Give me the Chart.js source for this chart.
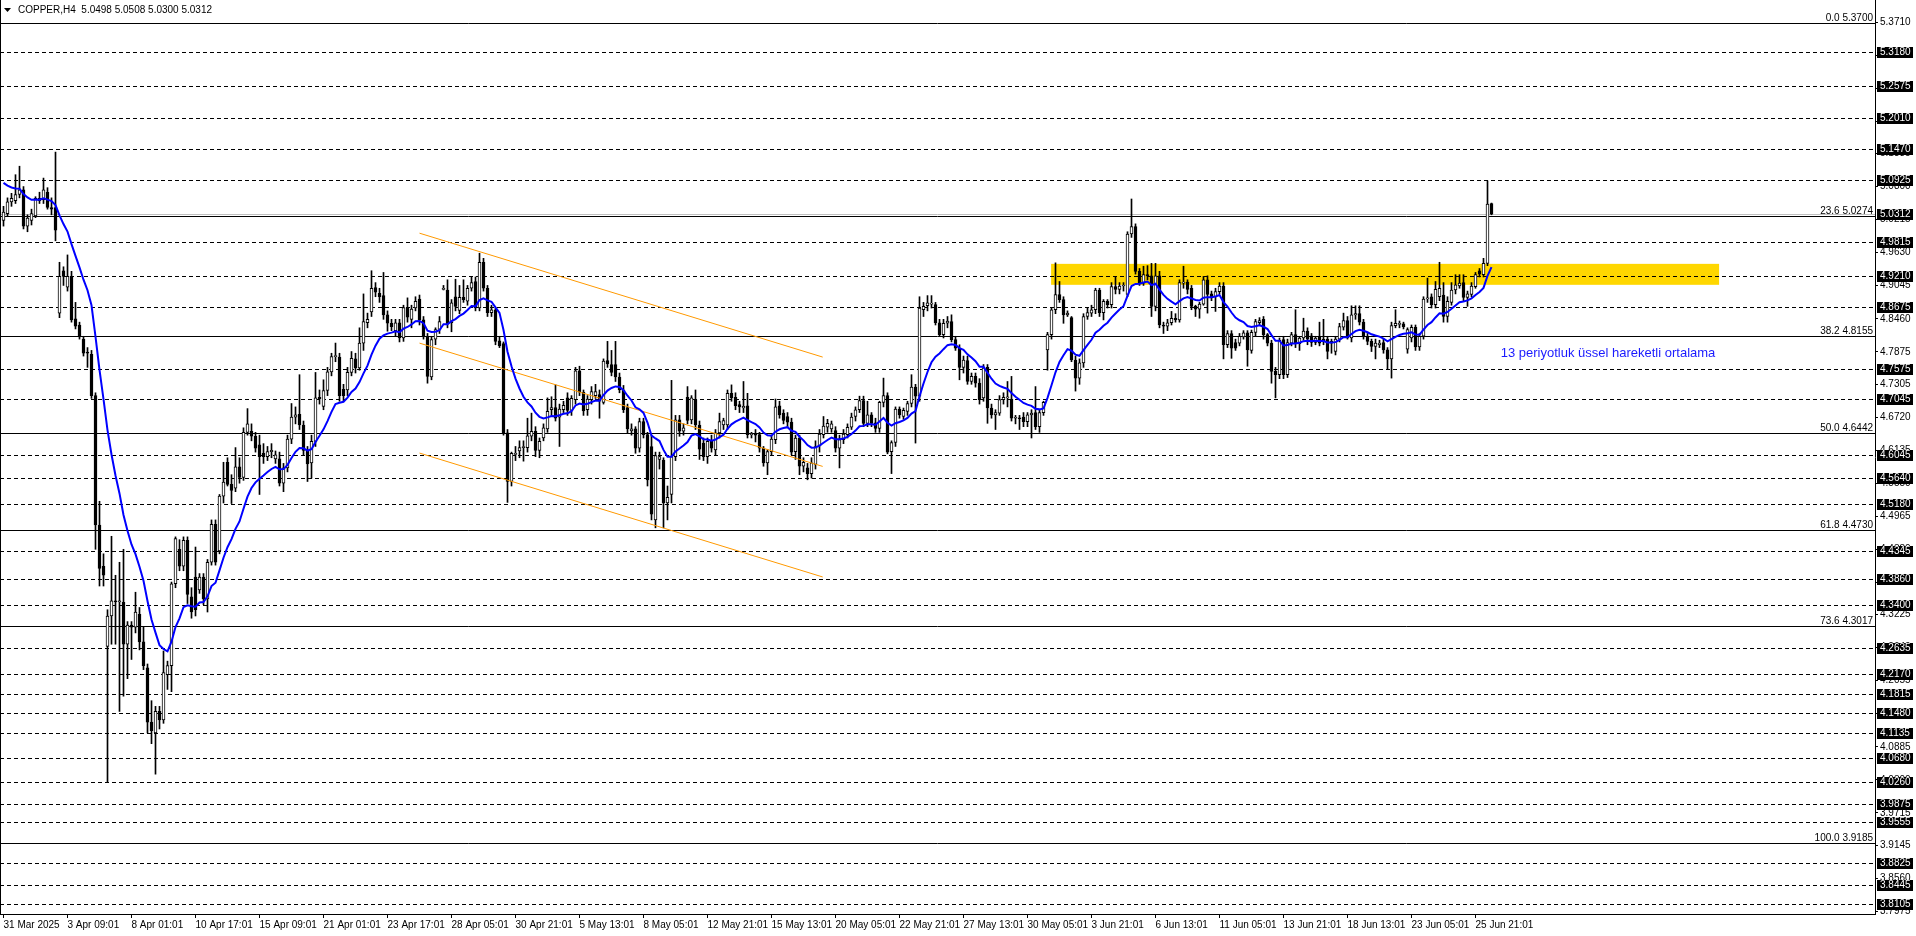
<!DOCTYPE html>
<html>
<head>
<meta charset="utf-8">
<style>
html, body { margin: 0; padding: 0; background: #fff; overflow: hidden; }
canvas { display: block; }
</style>
<script src="https://cdn.jsdelivr.net/npm/chart.js@4.4.1/dist/chart.umd.min.js"></script>
</head>
<body>
<canvas id="chart" width="1916" height="936"></canvas>
<script>
// COPPER H4, one value per bar (31 Mar 2025 -> 26 Jun 2025)
const opens = [
  5.020,5.032,5.053,5.055,5.066,5.074,5.010,5.020,5.028,5.059,
  5.057,5.070,5.043,5.043,4.856,4.931,4.902,4.921,4.846,4.835,
  4.810,4.787,4.783,4.710,4.481,4.408,4.266,4.320,4.347,4.345,
  4.344,4.270,4.304,4.300,4.323,4.274,4.228,4.132,4.113,4.151,
  4.136,4.216,4.232,4.377,4.438,4.408,4.454,4.354,4.389,4.366,
  4.389,4.350,4.415,4.482,4.435,4.532,4.592,4.553,4.546,4.584,
  4.565,4.645,4.647,4.638,4.623,4.608,4.602,4.611,4.598,4.598,
  4.555,4.582,4.633,4.672,4.677,4.658,4.613,4.591,4.629,4.707,
  4.691,4.719,4.752,4.779,4.778,4.721,4.720,4.751,4.775,4.759,
  4.803,4.839,4.858,4.901,4.891,4.887,4.853,4.838,4.825,4.839,
  4.812,4.866,4.845,4.865,4.881,4.844,4.815,4.743,4.810,4.827,
  4.898,4.897,4.839,4.885,4.861,4.884,4.877,4.900,4.912,4.865,
  4.946,4.900,4.857,4.862,4.807,4.802,4.644,4.558,4.606,4.612,
  4.618,4.618,4.638,4.647,4.613,4.635,4.651,4.685,4.689,4.672,
  4.685,4.706,4.684,4.703,4.754,4.716,4.685,4.703,4.710,4.712,
  4.698,4.772,4.765,4.765,4.743,4.720,4.689,4.648,4.651,4.617,
  4.664,4.641,4.620,4.490,4.597,4.596,4.520,4.535,4.602,4.667,
  4.647,4.707,4.667,4.703,4.658,4.626,4.602,4.629,4.614,4.644,
  4.658,4.658,4.714,4.707,4.694,4.688,4.692,4.641,4.641,4.641,
  4.617,4.591,4.611,4.632,4.692,4.679,4.673,4.663,4.611,4.635,
  4.585,4.582,4.572,4.588,4.621,4.641,4.654,4.651,4.648,4.617,
  4.632,4.641,4.654,4.673,4.685,4.701,4.661,4.676,4.662,4.652,
  4.698,4.710,4.611,4.627,4.686,4.673,4.682,4.696,4.725,4.709,
  4.862,4.869,4.872,4.871,4.839,4.818,4.838,4.841,4.809,4.794,
  4.760,4.772,4.735,4.744,4.732,4.706,4.760,4.688,4.676,4.679,
  4.703,4.706,4.704,4.670,4.670,4.672,4.664,4.676,4.680,4.655,
  4.680,4.791,4.818,4.862,4.889,4.880,4.853,4.848,4.773,4.741,
  4.768,4.850,4.856,4.862,4.897,4.857,4.877,4.871,4.903,4.898,
  4.904,4.889,4.996,5.009,4.930,4.909,4.924,4.922,4.868,4.922,
  4.835,4.833,4.839,4.847,4.844,4.909,4.911,4.900,4.868,4.863,
  4.872,4.915,4.890,4.885,4.894,4.904,4.800,4.820,4.804,4.803,
  4.814,4.821,4.790,4.822,4.839,4.845,4.818,4.803,4.753,4.747,
  4.809,4.747,4.803,4.818,4.802,4.812,4.824,4.816,4.804,4.813,
  4.810,4.810,4.806,4.788,4.810,4.831,4.843,4.812,4.853,4.855,
  4.840,4.815,4.806,4.797,4.800,4.804,4.791,4.775,4.834,4.836,
  4.837,4.792,4.812,4.831,4.796,4.815,4.881,4.885,4.871,4.885,
  4.888,4.850,4.875,4.897,4.904,4.910,4.884,4.889,4.903,4.931,
  4.924,4.944,5.0498
];
const highs = [
  5.045,5.060,5.068,5.101,5.116,5.080,5.030,5.040,5.062,5.070,
  5.095,5.078,5.060,5.141,4.946,4.938,4.959,4.930,4.875,4.840,
  4.815,4.795,4.790,4.715,4.523,4.430,4.331,4.461,4.392,4.415,
  4.438,4.310,4.310,4.362,4.335,4.300,4.235,4.170,4.160,4.160,
  4.258,4.240,4.380,4.460,4.455,4.460,4.460,4.370,4.442,4.395,
  4.395,4.420,4.490,4.490,4.535,4.592,4.600,4.570,4.618,4.600,
  4.653,4.687,4.660,4.645,4.640,4.625,4.620,4.625,4.612,4.610,
  4.590,4.640,4.696,4.690,4.747,4.665,4.620,4.640,4.751,4.720,
  4.738,4.760,4.785,4.803,4.785,4.730,4.760,4.788,4.785,4.830,
  4.890,4.856,4.931,4.910,4.900,4.928,4.860,4.845,4.845,4.845,
  4.870,4.883,4.870,4.885,4.888,4.850,4.820,4.815,4.830,4.850,
  4.905,4.915,4.880,4.916,4.905,4.915,4.905,4.920,4.920,4.962,
  4.953,4.905,4.870,4.865,4.815,4.805,4.650,4.610,4.620,4.630,
  4.630,4.670,4.679,4.655,4.635,4.660,4.706,4.708,4.729,4.695,
  4.700,4.715,4.710,4.760,4.762,4.720,4.710,4.726,4.730,4.720,
  4.775,4.806,4.790,4.806,4.750,4.728,4.695,4.660,4.655,4.670,
  4.670,4.645,4.640,4.610,4.610,4.600,4.550,4.737,4.675,4.675,
  4.660,4.726,4.710,4.720,4.665,4.635,4.635,4.640,4.650,4.679,
  4.670,4.720,4.729,4.715,4.700,4.735,4.714,4.645,4.650,4.645,
  4.620,4.615,4.640,4.704,4.700,4.685,4.680,4.670,4.640,4.640,
  4.600,4.590,4.600,4.630,4.650,4.673,4.668,4.665,4.655,4.640,
  4.650,4.660,4.679,4.690,4.709,4.709,4.700,4.680,4.670,4.700,
  4.741,4.715,4.630,4.690,4.690,4.688,4.700,4.747,4.730,4.885,
  4.875,4.887,4.887,4.875,4.845,4.845,4.850,4.853,4.815,4.800,
  4.780,4.780,4.750,4.750,4.740,4.765,4.765,4.695,4.685,4.710,
  4.715,4.735,4.744,4.675,4.675,4.680,4.680,4.685,4.726,4.685,
  4.700,4.822,4.865,4.945,4.912,4.885,4.860,4.850,4.780,4.775,
  4.855,4.865,4.870,4.900,4.900,4.880,4.880,4.910,4.920,4.910,
  4.910,5.000,5.058,5.014,4.935,4.939,4.940,4.944,4.944,4.930,
  4.840,4.845,4.859,4.855,4.915,4.939,4.915,4.905,4.870,4.875,
  4.921,4.922,4.895,4.900,4.910,4.910,4.825,4.825,4.810,4.820,
  4.825,4.825,4.826,4.845,4.848,4.850,4.820,4.808,4.760,4.812,
  4.815,4.810,4.822,4.862,4.815,4.847,4.830,4.820,4.815,4.840,
  4.845,4.815,4.810,4.815,4.838,4.856,4.850,4.869,4.869,4.869,
  4.845,4.820,4.810,4.810,4.808,4.810,4.795,4.840,4.862,4.842,
  4.840,4.830,4.835,4.835,4.820,4.885,4.918,4.890,4.912,4.946,
  4.910,4.885,4.910,4.924,4.924,4.924,4.895,4.910,4.928,4.935,
  4.953,5.090,5.0508
];
const lows = [
  5.010,5.028,5.045,5.050,5.060,5.005,5.000,5.012,5.025,5.050,
  5.050,5.040,5.030,4.984,4.848,4.905,4.895,4.840,4.828,4.810,
  4.780,4.760,4.705,4.438,4.373,4.373,4.025,4.270,4.270,4.151,
  4.178,4.209,4.243,4.290,4.260,4.225,4.113,4.094,4.040,4.120,
  4.130,4.190,4.186,4.370,4.400,4.400,4.342,4.316,4.320,4.360,
  4.340,4.327,4.410,4.410,4.430,4.520,4.550,4.519,4.540,4.555,
  4.560,4.640,4.630,4.610,4.535,4.590,4.595,4.600,4.590,4.550,
  4.540,4.575,4.625,4.660,4.650,4.605,4.558,4.564,4.620,4.695,
  4.685,4.710,4.745,4.770,4.700,4.700,4.710,4.745,4.750,4.755,
  4.790,4.830,4.850,4.885,4.875,4.845,4.824,4.825,4.815,4.805,
  4.806,4.840,4.830,4.860,4.835,4.810,4.732,4.738,4.800,4.820,
  4.897,4.830,4.823,4.860,4.855,4.875,4.870,4.895,4.860,4.860,
  4.895,4.850,4.850,4.800,4.795,4.640,4.521,4.550,4.595,4.600,
  4.594,4.610,4.630,4.602,4.600,4.630,4.645,4.675,4.665,4.620,
  4.680,4.675,4.675,4.695,4.710,4.675,4.675,4.695,4.705,4.670,
  4.695,4.760,4.745,4.735,4.715,4.680,4.644,4.640,4.608,4.610,
  4.635,4.550,4.490,4.476,4.580,4.476,4.490,4.520,4.595,4.638,
  4.640,4.660,4.660,4.650,4.597,4.595,4.590,4.610,4.605,4.635,
  4.650,4.650,4.700,4.685,4.680,4.680,4.635,4.635,4.628,4.610,
  4.585,4.570,4.605,4.625,4.670,4.660,4.655,4.605,4.597,4.570,
  4.575,4.561,4.564,4.580,4.610,4.635,4.645,4.645,4.610,4.582,
  4.625,4.635,4.650,4.665,4.680,4.655,4.655,4.655,4.645,4.645,
  4.690,4.607,4.572,4.620,4.670,4.668,4.675,4.690,4.626,4.700,
  4.850,4.860,4.865,4.835,4.815,4.812,4.830,4.805,4.790,4.738,
  4.750,4.730,4.730,4.725,4.695,4.700,4.661,4.670,4.650,4.675,
  4.695,4.690,4.665,4.660,4.650,4.655,4.655,4.635,4.650,4.645,
  4.675,4.755,4.810,4.855,4.875,4.838,4.850,4.770,4.718,4.730,
  4.760,4.845,4.850,4.855,4.850,4.844,4.865,4.865,4.890,4.890,
  4.895,4.885,4.990,4.925,4.905,4.905,4.915,4.850,4.860,4.830,
  4.820,4.825,4.835,4.840,4.840,4.900,4.890,4.862,4.850,4.847,
  4.870,4.856,4.878,4.859,4.890,4.775,4.795,4.776,4.790,4.798,
  4.810,4.762,4.785,4.815,4.835,4.810,4.798,4.732,4.706,4.740,
  4.740,4.742,4.798,4.795,4.790,4.808,4.800,4.797,4.800,4.798,
  4.800,4.775,4.785,4.782,4.805,4.826,4.810,4.805,4.845,4.835,
  4.810,4.800,4.788,4.775,4.795,4.785,4.757,4.741,4.830,4.830,
  4.828,4.785,4.805,4.790,4.790,4.810,4.875,4.865,4.865,4.878,
  4.840,4.840,4.870,4.890,4.900,4.878,4.868,4.885,4.900,4.920,
  4.920,4.940,5.0300
];
const closes = [
  5.035,5.053,5.059,5.066,5.074,5.010,5.024,5.032,5.059,5.055,
  5.074,5.043,5.040,5.003,4.921,4.921,4.921,4.844,4.833,4.814,
  4.785,4.785,4.710,4.481,4.404,4.392,4.320,4.347,4.345,4.347,
  4.270,4.304,4.300,4.327,4.274,4.232,4.132,4.117,4.151,4.136,
  4.220,4.232,4.377,4.457,4.408,4.454,4.358,4.327,4.331,4.389,
  4.350,4.415,4.482,4.415,4.532,4.557,4.553,4.542,4.584,4.565,
  4.645,4.660,4.638,4.617,4.602,4.602,4.611,4.613,4.605,4.555,
  4.582,4.633,4.672,4.676,4.658,4.613,4.589,4.629,4.706,4.704,
  4.719,4.752,4.779,4.779,4.710,4.710,4.751,4.776,4.759,4.803,
  4.841,4.845,4.900,4.893,4.885,4.853,4.838,4.832,4.839,4.812,
  4.866,4.849,4.863,4.877,4.844,4.815,4.744,4.809,4.827,4.841,
  4.900,4.837,4.874,4.868,4.884,4.880,4.900,4.910,4.865,4.946,
  4.900,4.857,4.862,4.806,4.798,4.644,4.558,4.608,4.608,4.618,
  4.620,4.639,4.647,4.613,4.629,4.653,4.682,4.689,4.670,4.686,
  4.693,4.684,4.705,4.754,4.716,4.683,4.704,4.717,4.717,4.700,
  4.771,4.766,4.751,4.743,4.720,4.685,4.651,4.651,4.617,4.664,
  4.641,4.561,4.500,4.604,4.602,4.520,4.530,4.602,4.667,4.647,
  4.653,4.666,4.706,4.658,4.615,4.602,4.629,4.617,4.644,4.664,
  4.666,4.714,4.706,4.692,4.690,4.691,4.641,4.641,4.640,4.617,
  4.591,4.611,4.633,4.690,4.676,4.666,4.663,4.610,4.635,4.585,
  4.592,4.572,4.591,4.620,4.642,4.656,4.661,4.660,4.617,4.632,
  4.642,4.654,4.672,4.685,4.701,4.661,4.676,4.661,4.652,4.698,
  4.710,4.610,4.627,4.686,4.676,4.684,4.696,4.725,4.709,4.865,
  4.868,4.874,4.872,4.839,4.818,4.838,4.842,4.809,4.794,4.760,
  4.773,4.735,4.744,4.732,4.703,4.759,4.688,4.676,4.680,4.703,
  4.707,4.707,4.670,4.670,4.669,4.664,4.676,4.679,4.655,4.680,
  4.698,4.818,4.862,4.889,4.880,4.853,4.856,4.773,4.741,4.768,
  4.850,4.857,4.862,4.897,4.857,4.877,4.871,4.903,4.898,4.904,
  4.904,4.996,5.009,4.930,4.909,4.924,4.922,4.868,4.922,4.835,
  4.833,4.839,4.847,4.844,4.910,4.911,4.898,4.868,4.863,4.872,
  4.915,4.889,4.883,4.894,4.904,4.800,4.820,4.794,4.794,4.815,
  4.821,4.791,4.822,4.841,4.843,4.818,4.803,4.753,4.747,4.808,
  4.747,4.804,4.818,4.802,4.812,4.824,4.810,4.804,4.812,4.803,
  4.806,4.788,4.803,4.810,4.832,4.843,4.812,4.853,4.855,4.840,
  4.815,4.806,4.797,4.803,4.803,4.791,4.775,4.834,4.838,4.838,
  4.832,4.827,4.831,4.796,4.815,4.881,4.883,4.871,4.898,4.900,
  4.850,4.877,4.897,4.906,4.909,4.884,4.890,4.904,4.924,4.925,
  4.944,5.049,5.0312
];

// time axis: one label every 16 bars
const timeLabels = [
  "31 Mar 2025", "3 Apr 09:01", "8 Apr 01:01", "10 Apr 17:01", "15 Apr 09:01",
  "21 Apr 01:01", "23 Apr 17:01", "28 Apr 05:01", "30 Apr 21:01", "5 May 13:01",
  "8 May 05:01", "12 May 21:01", "15 May 13:01", "20 May 05:01", "22 May 21:01",
  "27 May 13:01", "30 May 05:01", "3 Jun 21:01", "6 Jun 13:01", "11 Jun 05:01",
  "13 Jun 21:01", "18 Jun 13:01", "23 Jun 05:01", "25 Jun 21:01"
];
const barsPerLabel = 16;

// price axis
const priceTicks = [
  5.3710, 5.3125, 5.2540, 5.1955, 5.1385, 5.0800, 5.0215, 4.9630, 4.9045, 4.8460,
  4.7875, 4.7305, 4.6720, 4.6135, 4.5550, 4.4965, 4.4380, 4.3795, 4.3225, 4.2640,
  4.2055, 4.1470, 4.0885, 4.0300, 3.9715, 3.9145, 3.8560, 3.7975
];
const priceMin = 3.7925, priceMax = 5.4102;

// horizontal levels (dashed), fibonacci retracement, bid
const levels = [
  5.3180, 5.2575, 5.2010, 5.1470, 5.0925, 4.9815, 4.9210, 4.8675, 4.7575, 4.7045,
  4.6045, 4.5640, 4.5180, 4.4345, 4.3860, 4.3400, 4.2635, 4.2170, 4.1815, 4.1480,
  4.1135, 4.0680, 4.0260, 3.9875, 3.9555, 3.8825, 3.8445, 3.8105
];
const fibNames = ["0.0", "23.6", "38.2", "50.0", "61.8", "73.6", "100.0"];
const fibPrices = [5.3700, 5.0274, 4.8155, 4.6442, 4.4730, 4.3017, 3.9185];
const bid = 5.0312;

// drawn objects, in bar index / price
const channelLines = [
  [[104, 4.9975], [204.8, 4.7782]],
  [[104, 4.8029], [204.8, 4.5847]],
  [[104, 4.6083], [204.8, 4.3890]]
];
const zoneBars = [261.9, 428.9];
const zonePrices = [4.9061, 4.9432];
const emaPeriod = 13;
const emaStart = 5.095;
const emaNote = "13 periyotluk üssel hareketli ortalama";
const emaNoteAt = [374.3, 4.784];
const title = "COPPER,H4  5.0498 5.0508 5.0300 5.0312";

const FONT = "'Liberation Sans', Arial, sans-serif";

// EMA of closes
const ema = [];
let prev = emaStart;
const k = 2 / (emaPeriod + 1);
closes.forEach(c => { prev = prev + k * (c - prev); ema.push(prev); });

const idx = closes.map((c, i) => i);

const overlay = {
  id: 'overlay',
  beforeDatasetsDraw(chart) {
    const { ctx, chartArea: a, scales: { x, y } } = chart;
    ctx.save();
    // yellow zone
    ctx.fillStyle = '#ffd700';
    const zx0 = x.getPixelForValue(zoneBars[0]), zx1 = x.getPixelForValue(zoneBars[1]);
    const zy0 = y.getPixelForValue(zonePrices[1]), zy1 = y.getPixelForValue(zonePrices[0]);
    ctx.fillRect(zx0, zy0, zx1 - zx0, zy1 - zy0);
    // bid line
    ctx.strokeStyle = '#c0c0c0';
    ctx.lineWidth = 1;
    let py = Math.round(y.getPixelForValue(bid)) + 0.5;
    ctx.beginPath(); ctx.moveTo(a.left, py); ctx.lineTo(a.right, py); ctx.stroke();
    // dashed levels
    ctx.strokeStyle = '#000';
    ctx.setLineDash([4, 3]);
    levels.forEach(v => {
      const p = Math.round(y.getPixelForValue(v)) + 0.5;
      ctx.beginPath(); ctx.moveTo(a.left, p); ctx.lineTo(a.right, p); ctx.stroke();
    });
    ctx.setLineDash([]);
    // fibo
    fibPrices.forEach(v => {
      const p = Math.round(y.getPixelForValue(v)) + 0.5;
      ctx.beginPath(); ctx.moveTo(a.left, p); ctx.lineTo(a.right, p); ctx.stroke();
    });
    ctx.restore();
  },
  afterDraw(chart) {
    const { ctx, chartArea: a, scales: { x, y } } = chart;
    ctx.save();
    ctx.font = '10px ' + FONT;
    ctx.fillStyle = '#000';
    ctx.textBaseline = 'alphabetic';
    ctx.textAlign = 'right';
    fibPrices.forEach((v, i) => {
      const p = Math.round(y.getPixelForValue(v));
      ctx.fillText(fibNames[i] + ' ' + v.toFixed(4), a.right - 2, p - 2);
    });
    // title
    ctx.textAlign = 'left';
    ctx.textBaseline = 'middle';
    ctx.fillText(title, 18, 10);
    ctx.beginPath(); ctx.moveTo(4, 8); ctx.lineTo(11, 8); ctx.lineTo(7.5, 12); ctx.closePath(); ctx.fill();
    // ema note
    ctx.font = '13px ' + FONT;
    ctx.fillStyle = '#1a1aff';
    ctx.fillText(emaNote, x.getPixelForValue(emaNoteAt[0]), y.getPixelForValue(emaNoteAt[1]));
    // price boxes on the axis
    ctx.font = '10px ' + FONT;
    [...levels, bid].forEach(v => {
      const p = Math.round(y.getPixelForValue(v));
      ctx.fillStyle = '#000';
      ctx.fillRect(a.right + 2, p - 5, 36, 11);
      ctx.fillStyle = '#fff';
      ctx.fillText(v.toFixed(4), a.right + 5, p + 0.5);
    });
    // frame on the left
    ctx.strokeStyle = '#000';
    ctx.lineWidth = 1;
    ctx.beginPath(); ctx.moveTo(0.5, 0); ctx.lineTo(0.5, a.bottom); ctx.stroke();
    ctx.restore();
  }
};

new Chart(document.getElementById('chart'), {
  data: {
    datasets: [
      {
        type: 'line', label: 'EMA', order: 0,
        data: idx.map(i => ({ x: i, y: ema[i] })),
        borderColor: '#0000ff', borderWidth: 2, pointRadius: 0, tension: 0
      },
      ...channelLines.map(l => ({
        type: 'line', order: 0,
        data: l.map(p => ({ x: p[0], y: p[1] })),
        borderColor: '#ff9900', borderWidth: 1, pointRadius: 0
      })),
      {
        type: 'bar', label: 'body', order: 1, grouped: false,
        data: idx.map(i => ({ x: i, y: [opens[i], closes[i]] })),
        backgroundColor: idx.map(i => closes[i] >= opens[i] ? '#ffffff' : '#000000'),
        borderColor: '#000', borderWidth: 1, borderSkipped: false,
        barThickness: 3, minBarLength: 1
      },
      {
        type: 'bar', label: 'wick', order: 2, grouped: false,
        data: idx.map(i => ({ x: i, y: [Math.min(lows[i], opens[i], closes[i]), Math.max(highs[i], opens[i], closes[i])] })),
        backgroundColor: '#000', barThickness: 1
      }
    ]
  },
  options: {
    responsive: false,
    animation: false,
    devicePixelRatio: 1,
    events: [],
    layout: { padding: 0 },
    plugins: { legend: { display: false }, tooltip: { enabled: false } },
    scales: {
      x: {
        type: 'linear', min: -0.875, max: 467.875, offset: false,
        afterBuildTicks: s => { s.ticks = timeLabels.map((t, n) => ({ value: n * barsPerLabel })); },
        afterFit: s => { s.height = 22; s.paddingLeft = 0; s.paddingRight = 0; },
        ticks: {
          callback: (v, n) => timeLabels[n], align: 'start', maxRotation: 0, autoSkip: false,
          font: { family: FONT, size: 10 }, color: '#000', padding: 1
        },
        grid: { drawOnChartArea: false, tickLength: 4, color: '#000', offset: false },
        border: { color: '#000' }
      },
      y: {
        position: 'right', min: priceMin, max: priceMax,
        afterBuildTicks: s => { s.ticks = priceTicks.map(v => ({ value: v })); },
        afterFit: s => { s.width = 41; s.paddingTop = 0; s.paddingBottom = 0; },
        ticks: {
          callback: v => v.toFixed(4), autoSkip: false,
          font: { family: FONT, size: 10 }, color: '#000', padding: 2
        },
        grid: { drawOnChartArea: false, tickLength: 3, color: '#000' },
        border: { color: '#000' }
      }
    }
  },
  plugins: [overlay]
});
</script>
</body>
</html>
